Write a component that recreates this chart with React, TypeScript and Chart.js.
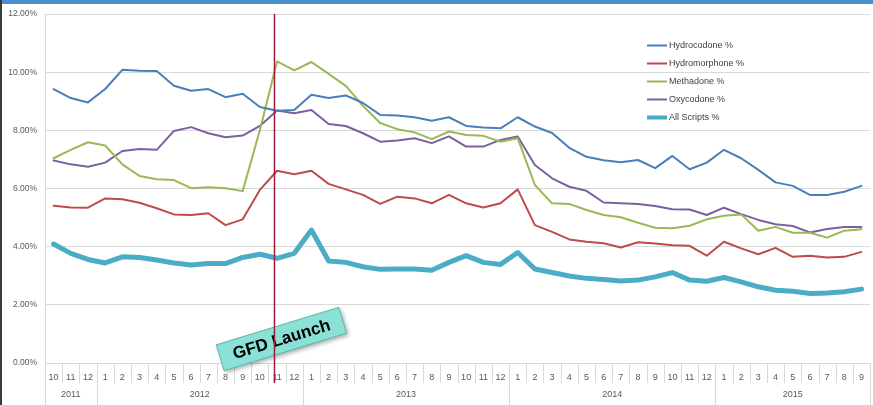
import React, { useEffect, useRef } from 'react';
import { Chart, registerables } from 'chart.js';

Chart.register(...registerables);

const monthLabels = [
  '10', '11', '12',
  '1', '2', '3', '4', '5', '6', '7', '8', '9', '10', '11', '12',
  '1', '2', '3', '4', '5', '6', '7', '8', '9', '10', '11', '12',
  '1', '2', '3', '4', '5', '6', '7', '8', '9', '10', '11', '12',
  '1', '2', '3', '4', '5', '6', '7', '8', '9',
];
const yearLabels = ['2011', '2012', '2013', '2014', '2015'];
const yearMonthCounts = [3, 12, 12, 12, 9];

const hydrocodone = [
  9.42, 9.11, 8.96, 9.42, 10.08, 10.05, 10.04, 9.53, 9.36, 9.42, 9.14, 9.26,
  8.80, 8.67, 8.70, 9.22, 9.11, 9.20, 8.94, 8.53, 8.51, 8.45, 8.33, 8.45,
  8.15, 8.10, 8.07, 8.45, 8.13, 7.91, 7.40, 7.09, 6.97, 6.90, 6.98, 6.70,
  7.12, 6.66, 6.89, 7.33, 7.04, 6.64, 6.21, 6.09, 5.78, 5.78, 5.89, 6.09,
];
const hydromorphone = [
  5.41, 5.35, 5.34, 5.66, 5.63, 5.51, 5.32, 5.11, 5.09, 5.15, 4.74, 4.94,
  5.95, 6.61, 6.49, 6.61, 6.16, 5.97, 5.78, 5.47, 5.72, 5.66, 5.49, 5.78,
  5.49, 5.35, 5.49, 5.97, 4.74, 4.51, 4.25, 4.17, 4.12, 3.97, 4.15, 4.11,
  4.05, 4.03, 3.69, 4.17, 3.94, 3.74, 3.96, 3.65, 3.69, 3.63, 3.65, 3.82,
];
const methadone = [
  7.04, 7.33, 7.59, 7.48, 6.83, 6.43, 6.32, 6.29, 6.01, 6.04, 6.01, 5.91,
  8.00, 10.37, 10.06, 10.35, 9.94, 9.53, 8.84, 8.25, 8.04, 7.93, 7.70, 7.96,
  7.84, 7.81, 7.61, 7.73, 6.12, 5.49, 5.47, 5.26, 5.09, 5.01, 4.82, 4.65,
  4.63, 4.72, 4.94, 5.06, 5.11, 4.55, 4.68, 4.48, 4.48, 4.31, 4.55, 4.60,
];
const oxycodone = [
  6.96, 6.83, 6.75, 6.89, 7.29, 7.36, 7.33, 7.98, 8.11, 7.90, 7.76, 7.82,
  8.15, 8.68, 8.59, 8.70, 8.22, 8.15, 7.90, 7.61, 7.65, 7.73, 7.56, 7.79,
  7.44, 7.44, 7.67, 7.79, 6.81, 6.35, 6.06, 5.92, 5.52, 5.49, 5.47, 5.40,
  5.29, 5.28, 5.09, 5.34, 5.12, 4.92, 4.77, 4.71, 4.49, 4.61, 4.68, 4.68,
];
const allScripts = [
  4.09, 3.77, 3.56, 3.44, 3.65, 3.63, 3.54, 3.44, 3.37, 3.42, 3.42, 3.63,
  3.74, 3.60, 3.77, 4.57, 3.51, 3.46, 3.31, 3.22, 3.23, 3.23, 3.19, 3.46,
  3.69, 3.46, 3.39, 3.80, 3.23, 3.11, 2.99, 2.91, 2.87, 2.82, 2.85, 2.96,
  3.11, 2.85, 2.81, 2.94, 2.79, 2.62, 2.50, 2.47, 2.39, 2.41, 2.45, 2.54,
];

const seriesNames = ['Hydrocodone %', 'Hydromorphone %', 'Methadone %', 'Oxycodone %', 'All Scripts %'];
const seriesValues = [hydrocodone, hydromorphone, methadone, oxycodone, allScripts];
const seriesColors = ['#4a7ebb', '#be4b48', '#98b954', '#7d60a0', '#4bacc6'];
const seriesWidths = [2, 2, 2, 2, 5];

const launchIndex = 12.85;
const launchLabel = 'GFD Launch';

const FONT = '"Liberation Sans", Arial, sans-serif';

const decorPlugin = {
  id: 'decor',
  afterDraw(chart: any) {
    const ctx = chart.ctx as CanvasRenderingContext2D;
    const xs = chart.scales.x;
    const ca = chart.chartArea;
    ctx.save();

    // frame
    ctx.fillStyle = '#4a8fcc';
    ctx.fillRect(0, 0, chart.width, 4);
    ctx.fillStyle = '#3a3a3a';
    ctx.fillRect(0, 0, 2, chart.height);

    // month separators
    ctx.strokeStyle = '#d9d9d9';
    ctx.lineWidth = 1;
    const n = monthLabels.length;
    for (let i = 0; i <= n; i++) {
      const x = Math.round(xs.getPixelForValue(i - 0.5)) + 0.5;
      ctx.beginPath();
      ctx.moveTo(x, ca.bottom);
      ctx.lineTo(x, ca.bottom + 20);
      ctx.stroke();
    }

    // year separators and labels
    let start = 0;
    ctx.font = '9px ' + FONT;
    ctx.fillStyle = '#595959';
    ctx.textAlign = 'center';
    ctx.textBaseline = 'middle';
    const drawSep = (xp: number) => {
      const x = Math.round(xp) + 0.5;
      ctx.beginPath();
      ctx.moveTo(x, ca.bottom);
      ctx.lineTo(x, chart.height);
      ctx.stroke();
    };
    yearLabels.forEach((yl, k) => {
      const end = start + yearMonthCounts[k];
      const x0 = xs.getPixelForValue(start - 0.5);
      const x1 = xs.getPixelForValue(end - 0.5);
      drawSep(x0);
      if (k === yearLabels.length - 1) drawSep(x1);
      ctx.fillText(yl, (x0 + x1) / 2, ca.bottom + 32);
      start = end;
    });

    // launch box
    const lx = xs.getPixelForValue(launchIndex);
    ctx.save();
    ctx.translate(lx + 7, 339);
    ctx.rotate((-17 * Math.PI) / 180);
    ctx.shadowColor = 'rgba(0,0,0,0.35)';
    ctx.shadowBlur = 4;
    ctx.shadowOffsetX = 2;
    ctx.shadowOffsetY = 2;
    ctx.fillStyle = '#8ae2d6';
    ctx.fillRect(-64, -13.5, 128, 27);
    ctx.shadowColor = 'transparent';
    ctx.strokeStyle = '#5fb8ad';
    ctx.lineWidth = 1;
    ctx.strokeRect(-64, -13.5, 128, 27);
    ctx.fillStyle = '#000';
    ctx.font = 'bold 17px ' + FONT;
    ctx.textAlign = 'center';
    ctx.textBaseline = 'middle';
    ctx.fillText(launchLabel, 0, 1);
    ctx.restore();

    // launch line
    ctx.strokeStyle = '#a31b3c';
    ctx.lineWidth = 1.5;
    ctx.beginPath();
    ctx.moveTo(lx, ca.top);
    ctx.lineTo(lx, ca.bottom + 20);
    ctx.stroke();

    // legend
    ctx.font = '9px ' + FONT;
    ctx.textAlign = 'left';
    ctx.textBaseline = 'middle';
    seriesNames.forEach((name, i) => {
      const y = 45.5 + i * 18;
      ctx.strokeStyle = seriesColors[i];
      ctx.lineWidth = i === 4 ? 4 : 2;
      ctx.beginPath();
      ctx.moveTo(647, y);
      ctx.lineTo(667, y);
      ctx.stroke();
      ctx.fillStyle = '#404040';
      ctx.fillText(name, 669, y);
    });

    ctx.restore();
  },
};

export default function App() {
  const ref = useRef<HTMLCanvasElement | null>(null);
  useEffect(() => {
    if (!ref.current) return;
    const chart = new Chart(ref.current, {
      type: 'line',
      data: {
        labels: monthLabels,
        datasets: seriesNames.map((name, i) => ({
          label: name,
          data: seriesValues[i],
          borderColor: seriesColors[i],
          backgroundColor: seriesColors[i],
          borderWidth: seriesWidths[i],
          pointRadius: 0,
          tension: 0,
          fill: false,
          borderJoinStyle: 'round' as const,
          borderCapStyle: 'round' as const,
        })),
      },
      options: {
        responsive: false,
        animation: false,
        devicePixelRatio: 1,
        layout: { padding: { top: 14, right: 2, left: 0, bottom: 0 } },
        plugins: { legend: { display: false }, tooltip: { enabled: false } },
        scales: {
          x: {
            offset: true,
            grid: { display: false, drawTicks: false, offset: true },
            border: { display: false },
            ticks: {
              autoSkip: false,
              maxRotation: 0,
              minRotation: 0,
              padding: 9,
              color: '#595959',
              font: { family: FONT, size: 9 },
            },
            afterFit: (s: any) => { s.height = 42; },
          },
          y: {
            min: 0,
            max: 12,
            grid: { color: '#d9d9d9', drawTicks: false },
            border: { display: true, color: '#d9d9d9' },
            ticks: {
              stepSize: 2,
              padding: 8,
              color: '#595959',
              font: { family: FONT, size: 8.5 },
              callback: (v: any) => Number(v).toFixed(2) + '%',
            },
            afterFit: (s: any) => { s.width = 45; },
          },
        },
      },
      plugins: [decorPlugin],
    });
    return () => chart.destroy();
  }, []);
  return (
    <div style={{ position: 'fixed', left: 0, top: 0, width: 873, height: 405, background: '#fff' }}>
      <canvas ref={ref} width={873} height={405} />
    </div>
  );
}
